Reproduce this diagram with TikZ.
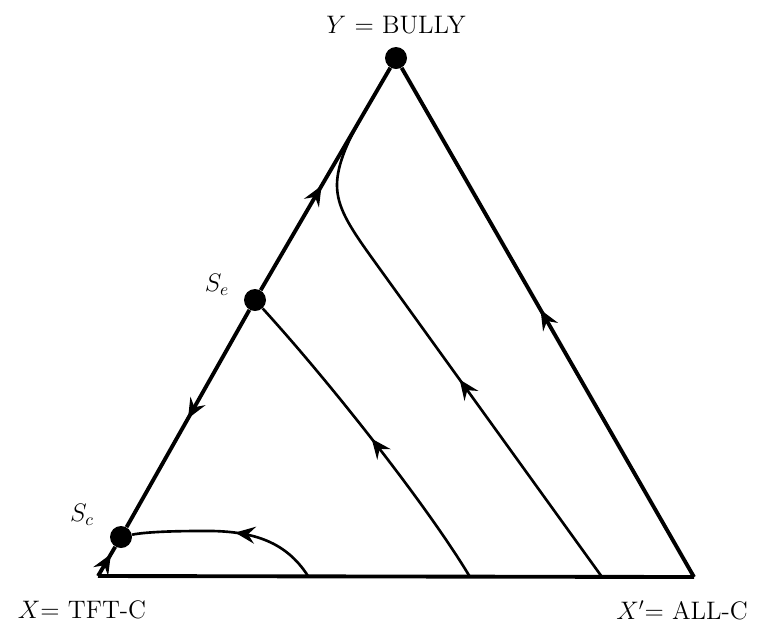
\documentclass[tikz,border=0pt]{standalone}
\usetikzlibrary{arrows.meta,decorations.markings}
\begin{document}
\begin{tikzpicture}[x=0.02cm, y=-0.02cm, every node/.style={font=\Large},
    fixpt/.style={circle, fill, inner sep=0pt, minimum size=0.44cm},
    side/.style={line width=2.2pt},
    orbit/.style={line width=1.5pt},
    flow/.style={postaction={decorate}, decoration={markings,
      mark=at position #1 with {\arrow{Stealth[length=0.4cm, width=0.34cm, inset=0.14cm]}}}}]
      \useasboundingbox (0,0) rectangle (757,627);
      \coordinate (X) at (98,576);
      \coordinate (Xp) at (694,577);
      \node[fixpt] (Y) at (396,58) {};
      \node[fixpt] (Se) at (255,300) {};
      \node[fixpt] (Sc) at (121,537) {};
      \node (Ylab) at (396,25) {$Y$ = BULLY};
      \node (Xlab) at (82,610) {$X$= TFT-C};
      \node (Xplab) at (682,610) {$X'$= ALL-C};
      \node (Selab) at (217,285) {$S_e$};
      \node (Sclab) at (82,515) {$S_c$};
      \draw[side] (X) -- (Xp);
      \draw[side, flow=0.75] (X) -- (Sc);
      \draw[side, flow=0.5] (Se) -- (Sc);
      \draw[side, flow=0.47] (Se) -- (Y);
      \draw[side, flow=0.525] (Xp) -- (Y);
      \coordinate (B1) at (470,577);
      \coordinate (B2) at (602,577);
      \coordinate (B3) at (308,576);
      \coordinate (J) at (358,124);
      \draw[orbit, flow=0.5] (B1) .. controls (430,510) and (335,388) .. (Se);
      \draw[orbit, flow=0.45] (B2) -- (372,258) .. controls (349,226) and (337,207) .. (337,185)
        .. controls (337,165) and (348,141) .. (J);
      \draw[orbit, flow=0.46] (B3) .. controls (285,540) and (250,530) .. (200,531)
        .. controls (160,531) and (140,533) .. (Sc);
    \end{tikzpicture}
\end{document}
